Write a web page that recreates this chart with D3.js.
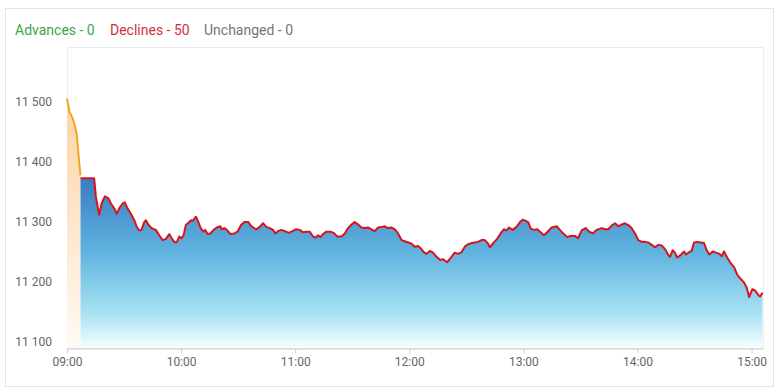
<!DOCTYPE html>
<html>
<head>
<meta charset="utf-8">
<script src="https://cdn.jsdelivr.net/npm/d3@7"></script>
<style>
  body { margin: 0; background: #fff; }
  text { font-family: Roboto, "Open Sans", sans-serif; }
</style>
</head>
<body>
<div id="chart"></div>
<script>
// pre-open auction (minutes after 09:00) and its index values
const preMinutes = [0, 1.3, 2.7, 3.9, 5.2, 6.2, 7.1];
const preValues = [11506, 11484, 11475, 11464, 11445, 11406, 11378];

// main session
const sessionMinutes = [
  7.1, 14.3, 15.2, 16.9, 18.2, 19.9, 21.7, 23.1, 24.8, 26.2, 27.5, 29.2, 30.4, 31.8, 33.6, 35.4, 36.7, 38, 39.2, 40.6,
  41.5, 42.7, 44.5, 46.7, 48.5, 50.3, 52, 53.8, 55.2, 56.7, 57.8, 59.1, 60.3, 61.3, 62.5, 64.3, 65.2, 66.1, 67.8, 69.1,
  70.4, 71.8, 72.7, 73.9, 75.4, 77.1, 78.8, 80.6, 81.5, 82.7, 84.1, 85.9, 88, 89.7, 91.5, 93.3, 95.4, 96.4, 97.8, 99.6,
  101.3, 103.1, 104.8, 106.6, 108.3, 109.7, 110.9, 112.7, 114.5, 116.7, 118.5, 120.6, 122.4, 124.1, 125.9, 127.6, 129.4, 130.8, 132, 133.3,
  134.6, 136.4, 138.5, 140.3, 142, 144.3, 146.1, 147.8, 149.6, 151.3, 153.1, 154.8, 156.6, 158.3, 160.1, 161.8, 163.6, 165.4, 167.1, 168.8,
  170.6, 172.4, 174.1, 175.9, 177.6, 179.4, 181.2, 182.9, 184.6, 186.4, 187.6, 189.1, 190.8, 192.5, 194.3, 196.1, 197.8, 199.9, 201.7, 203.9,
  205.7, 207.5, 209.2, 210.9, 212.7, 214.5, 216.2, 218, 219.7, 221.2, 222.4, 224.1, 226.2, 228, 229.7, 231.2, 232.5, 234.3, 236.4, 238.2,
  239.6, 241.3, 242.5, 243.9, 245.5, 247.3, 249.1, 250.8, 252.5, 254.8, 257.5, 259.2, 261.3, 263.1, 264.8, 267.1, 268.8, 270.6, 272.7, 274.6,
  276.5, 278.5, 281.2, 282.9, 284.6, 286.4, 288.2, 289.9, 291.7, 293.4, 295.2, 296.9, 298.7, 300.4, 302.2, 303.9, 305.7, 307.5, 309.2, 311,
  312.7, 314.5, 316.2, 317.1, 318.5, 319.7, 320.9, 322.7, 324.5, 325.5, 326.7, 328.5, 329.7, 331.5, 333.3, 335, 336.4, 337.8, 339.6, 341.3,
  343.1, 344.3, 345.5, 347.3, 349.1, 350.8, 352.5, 354.3, 356.1, 357.5, 358.7, 360.4, 361.8, 363.6, 364.5, 365.7
];
const sessionValues = [
  11373, 11373, 11342, 11312, 11331, 11343, 11340, 11331, 11323, 11314, 11323, 11331, 11333, 11323, 11314, 11303, 11292, 11286, 11287, 11300,
  11303, 11296, 11290, 11287, 11278, 11270, 11272, 11280, 11272, 11266, 11267, 11276, 11273, 11278, 11295, 11300, 11303, 11302, 11309, 11300,
  11289, 11284, 11287, 11280, 11281, 11287, 11291, 11293, 11288, 11290, 11287, 11280, 11281, 11284, 11295, 11300, 11300, 11295, 11291, 11288,
  11292, 11298, 11292, 11290, 11287, 11281, 11285, 11287, 11285, 11282, 11285, 11288, 11287, 11283, 11284, 11284, 11276, 11274, 11278, 11275,
  11280, 11284, 11284, 11282, 11276, 11276, 11281, 11290, 11296, 11300, 11296, 11291, 11290, 11291, 11288, 11285, 11291, 11292, 11293, 11290,
  11291, 11288, 11281, 11270, 11268, 11266, 11264, 11259, 11260, 11255, 11250, 11247, 11252, 11249, 11242, 11237, 11238, 11233, 11240, 11249,
  11247, 11250, 11259, 11263, 11265, 11266, 11267, 11270, 11270, 11265, 11258, 11265, 11272, 11281, 11288, 11286, 11291, 11287, 11292, 11300,
  11304, 11302, 11300, 11289, 11287, 11288, 11283, 11278, 11283, 11291, 11293, 11287, 11280, 11275, 11277, 11277, 11273, 11286, 11290, 11284,
  11281, 11287, 11290, 11288, 11288, 11294, 11298, 11293, 11296, 11298, 11295, 11290, 11281, 11270, 11267, 11267, 11266, 11262, 11258, 11262,
  11261, 11255, 11245, 11242, 11253, 11249, 11241, 11245, 11251, 11246, 11249, 11252, 11266, 11267, 11266, 11265, 11253, 11246, 11251, 11249,
  11247, 11243, 11251, 11240, 11231, 11225, 11212, 11205, 11199, 11190, 11175, 11188, 11186, 11178, 11176, 11182
];

const yTicks = [11100, 11200, 11300, 11400, 11500];
const legendItems = [
  { label: "Advances - 0", color: "#3aa845" },
  { label: "Declines - 50", color: "#d0313c" },
  { label: "Unchanged - 0", color: "#757575" }
];

const totalW = 779, totalH = 392;
const margin = { top: 47, left: 67, right: 16, bottom: 44 };
const width = totalW - margin.left - margin.right;
const height = totalH - margin.top - margin.bottom;

const root = d3.select("#chart")
  .append("svg")
  .attr("width", totalW)
  .attr("height", totalH);

// outer frame
root.append("rect")
  .attr("x", 5.5).attr("y", 8.5)
  .attr("width", 768).attr("height", 378)
  .attr("fill", "#fff")
  .attr("stroke", "#e4e4e4");

// legend
const legendX = [15, 110, 204];
root.selectAll(".legend")
  .data(legendItems)
  .join("text")
  .attr("class", "legend")
  .attr("x", (d, i) => legendX[i])
  .attr("y", 35)
  .attr("font-size", "14px")
  .attr("fill", d => d.color)
  .text(d => d.label);

const defs = root.append("defs");

const svg = root.append("g")
  .attr("transform", `translate(${margin.left}, ${margin.top})`);

const base = new Date(2024, 0, 1, 9, 0);
const toDate = m => new Date(base.getTime() + m * 60000);

const xScale = d3.scaleTime()
  .domain([base, toDate(366)])
  .range([0, width]);

const yScale = d3.scaleLinear()
  .domain([11090, 11592])
  .range([height, 0]);

// gradients
const blue = defs.append("linearGradient")
  .attr("id", "blueFill")
  .attr("gradientUnits", "userSpaceOnUse")
  .attr("x1", 0).attr("x2", 0)
  .attr("y1", yScale(11373)).attr("y2", height);
blue.append("stop").attr("offset", "0%").attr("stop-color", "#3a7cc2");
blue.append("stop").attr("offset", "45%").attr("stop-color", "#62b5e0");
blue.append("stop").attr("offset", "80%").attr("stop-color", "#a9e3f3");
blue.append("stop").attr("offset", "100%").attr("stop-color", "#f6feff");

const orange = defs.append("linearGradient")
  .attr("id", "orangeFill")
  .attr("gradientUnits", "userSpaceOnUse")
  .attr("x1", 0).attr("x2", 0)
  .attr("y1", yScale(11506)).attr("y2", height);
orange.append("stop").attr("offset", "0%").attr("stop-color", "#fbd3a6");
orange.append("stop").attr("offset", "100%").attr("stop-color", "#fffaf4");

// plot box
svg.append("rect")
  .attr("x", 0.5).attr("y", 0.5)
  .attr("width", width).attr("height", height)
  .attr("fill", "#fff")
  .attr("stroke", "#ececec");

const preData = preMinutes.map((m, i) => [toDate(m), preValues[i]]);
const sessionData = sessionMinutes.map((m, i) => [toDate(m), sessionValues[i]]);

const area = d3.area()
  .x(d => xScale(d[0]))
  .y0(height)
  .y1(d => yScale(d[1]));

const line = d3.line()
  .x(d => xScale(d[0]))
  .y(d => yScale(d[1]));

svg.append("path")
  .datum(preData)
  .attr("d", area)
  .attr("fill", "url(#orangeFill)");

svg.append("path")
  .datum(sessionData)
  .attr("d", area)
  .attr("fill", "url(#blueFill)");

svg.append("path")
  .datum(preData)
  .attr("d", line)
  .attr("fill", "none")
  .attr("stroke", "#f3a51e")
  .attr("stroke-width", 2);

svg.append("path")
  .datum(sessionData)
  .attr("d", line)
  .attr("fill", "none")
  .attr("stroke", "#d7141e")
  .attr("stroke-width", 2)
  .attr("stroke-linejoin", "round");

// x axis
const xAxis = svg.append("g")
  .attr("transform", `translate(0, ${height + 0.5})`)
  .call(d3.axisBottom(xScale)
    .ticks(d3.timeHour.every(1))
    .tickFormat(d3.timeFormat("%H:%M"))
    .tickSize(5)
    .tickPadding(4)
    .tickSizeOuter(0));
xAxis.select(".domain").attr("stroke", "#cfcfcf");
xAxis.selectAll(".tick line").attr("stroke", "#cfcfcf");
xAxis.selectAll(".tick text")
  .attr("font-family", "Roboto, sans-serif")
  .attr("font-size", "12px")
  .attr("fill", "#666");

// y labels
const fmt = d3.formatLocale({ decimal: ".", thousands: " ", grouping: [3], currency: ["", ""] }).format(",");
svg.selectAll(".ylab")
  .data(yTicks)
  .join("text")
  .attr("class", "ylab")
  .attr("x", 52 - margin.left)
  .attr("y", d => yScale(d))
  .attr("dy", "0.32em")
  .attr("text-anchor", "end")
  .attr("font-size", "12px")
  .attr("fill", "#666")
  .text(d => fmt(d));
</script>
</body>
</html>
